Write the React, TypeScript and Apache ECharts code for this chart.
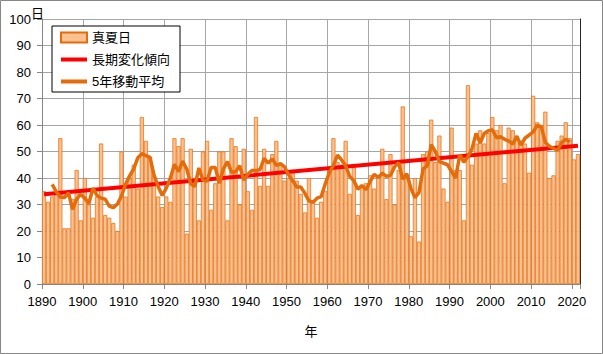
import React, { useEffect, useRef } from "react";
import * as echarts from "echarts";

// 真夏日の日数 (1890年〜2021年)
const startYear = 1890;
const summerDays = [
  35, 31, 33, 34, 55, 21, 21, 32, 43, 24, // 1890-1899
  40, 30, 25, 33, 53, 26, 25, 23, 20, 50, // 1900-1909
  33, 40, 45, 36, 63, 54, 48, 41, 33, 29, // 1910-1919
  33, 31, 55, 52, 55, 19, 51, 40, 24, 50, // 1920-1929
  54, 28, 38, 50, 50, 24, 55, 52, 30, 51, // 1930-1939
  35, 28, 63, 37, 51, 37, 49, 54, 45, 39, // 1940-1949
  40, 43, 39, 34, 27, 40, 31, 25, 31, 35, // 1950-1959
  43, 55, 46, 45, 54, 34, 44, 26, 37, 38, // 1960-1969
  41, 36, 41, 51, 32, 49, 30, 43, 67, 40, // 1970-1979
  18, 40, 16, 49, 50, 62, 46, 56, 36, 31, // 1980-1989
  59, 43, 43, 24, 75, 45, 53, 58, 53, 57, // 1990-1999
  63, 58, 60, 38, 59, 58, 55, 54, 53, 42, // 2000-2009
  71, 61, 60, 65, 40, 41, 54, 56, 61, 55, // 2010-2019
  47, 49, // 2020-2021
];

// 5年移動平均 (1892年〜2019年)
const maStartYear = 1892;
const movingAvg = [
  37.6, 34.8, 32.8, 32.6, 34.4, 28.2, 32.0, 33.8, // 1892-1899
  32.4, 30.4, 36.2, 33.4, 32.4, 32.0, 29.4, 28.8, 30.2, 33.2, // 1900-1909
  37.6, 40.8, 43.4, 47.6, 49.2, 48.4, 47.8, 41.0, 36.8, 33.4, // 1910-1919
  36.2, 40.0, 45.2, 42.4, 46.4, 43.4, 37.8, 36.8, 43.8, 39.2, // 1920-1929
  38.8, 44.0, 44.0, 38.0, 43.4, 46.2, 42.2, 42.4, 44.6, 39.2, // 1930-1939
  41.4, 42.8, 42.8, 43.2, 47.4, 45.6, 47.2, 44.8, 45.4, 44.2, // 1940-1949
  41.2, 39.0, 36.6, 36.6, 34.2, 31.4, 30.8, 32.4, 33.0, 37.8, // 1950-1959
  42.0, 44.8, 48.6, 46.8, 44.6, 40.6, 39.0, 35.8, 37.2, 35.6, // 1960-1969
  38.6, 41.4, 40.2, 41.8, 40.6, 41.0, 44.2, 45.8, 39.6, 41.6, // 1970-1979
  36.2, 32.6, 34.6, 43.4, 44.6, 52.6, 50.0, 46.2, 45.6, 45.0, // 1980-1989
  42.4, 40.0, 48.8, 46.0, 48.0, 51.0, 56.8, 53.2, 56.8, 57.8, // 1990-1999
  58.2, 55.2, 55.6, 54.6, 54.0, 52.8, 55.8, 52.4, 55.0, 56.2, // 2000-2009
  57.4, 59.8, 59.4, 53.4, 52.0, 51.2, 50.4, 53.4, 54.6, 53.6, // 2010-2019
];

// 長期変化傾向 (始点と終点)
const trendYears = [1890, 2021];
const trendValues = [33.9, 52.2];

const seriesNames = ["真夏日", "長期変化傾向", "5年移動平均"];
const yAxisUnit = "日";
const xAxisName = "年";

const FONT = "'Liberation Sans', 'Noto Sans CJK JP', sans-serif";
// legend line swatch: a 4px band centred in a 26x10 box (zero-area sub-paths fix the bounds)
const LINE_ICON = "path://M0,0L26,0L26,0ZM0,3L26,3L26,7L0,7ZM0,10L26,10L26,10Z";

export default function App() {
  const ref = useRef<HTMLDivElement>(null);

  useEffect(() => {
    if (!ref.current) return;
    const chart = echarts.init(ref.current, undefined, { renderer: "svg" });
    const gridLeft = 42;
    const gridRight = 23;
    const plotWidth = 603 - gridLeft - gridRight;
    const yearSpan = 2022 - startYear;

    chart.setOption({
      animation: false,
      backgroundColor: "#ffffff",
      textStyle: { fontFamily: FONT },
      grid: { left: gridLeft, right: gridRight, top: 19, bottom: 70, containLabel: false },
      legend: {
        data: [
          { name: seriesNames[0], icon: "rect" },
          { name: seriesNames[1], icon: LINE_ICON, itemStyle: { color: "#FF0000", borderWidth: 0 } },
          { name: seriesNames[2], icon: LINE_ICON, itemStyle: { color: "#E46C0A", borderWidth: 0 } },
        ],
        orient: "vertical",
        left: 52,
        top: 26,
        padding: [4, 10, 3, 8],
        itemGap: 7,
        itemWidth: 26,
        itemHeight: 10,
        itemTextGap: 2,
        backgroundColor: "#ffffff",
        borderColor: "#000000",
        borderWidth: 1,
        borderRadius: 0,
        textStyle: { fontSize: 13, color: "#000000", fontFamily: FONT, lineHeight: 15 },
      },
      xAxis: {
        type: "value",
        min: startYear,
        max: 2022,
        interval: 10,
        name: xAxisName,
        nameLocation: "middle",
        nameGap: 41,
        nameTextStyle: { fontSize: 13, color: "#000000", fontFamily: FONT },
        axisLine: { show: true, lineStyle: { color: "#868686", width: 1 } },
        axisTick: { show: true, length: 5, lineStyle: { color: "#868686" } },
        axisLabel: {
          margin: 11,
          fontSize: 13,
          color: "#000000",
          fontFamily: FONT,
          formatter: (v: number) => (v % 10 === 0 ? String(v) : ""),
        },
        splitLine: { show: true, lineStyle: { color: "#a6a6a6", width: 1 } },
      },
      yAxis: [
        {
          type: "value",
          min: 0,
          max: 100,
          interval: 10,
          axisLine: { show: true, lineStyle: { color: "#868686", width: 1 } },
          axisTick: { show: true, length: 5, lineStyle: { color: "#868686" } },
          axisLabel: { margin: 11, fontSize: 13, color: "#000000", fontFamily: FONT },
          splitLine: { show: true, lineStyle: { color: "#a6a6a6", width: 1 } },
        },
        {
          type: "value",
          position: "right",
          min: 0,
          max: 100,
          interval: 10,
          axisLine: { show: true, lineStyle: { color: "#262626", width: 1 } },
          axisTick: { show: false },
          axisLabel: { show: false },
          splitLine: { show: false },
        },
      ],
      series: [
        {
          name: seriesNames[0],
          type: "bar",
          data: summerDays.map((v, i) => [startYear + i + 0.5, v]),
          barWidth: plotWidth / yearSpan,
          itemStyle: { color: "#FAC090", borderColor: "#E46C0A", borderWidth: 0.7 },
          z: 2,
        },
        {
          name: seriesNames[1],
          type: "line",
          data: trendYears.map((y, i) => [y + 0.5, trendValues[i]]),
          symbol: "none",
          lineStyle: { color: "#FF0000", width: 4 },
          itemStyle: { color: "#FF0000" },
          z: 3,
        },
        {
          name: seriesNames[2],
          type: "line",
          data: movingAvg.map((v, i) => [maStartYear + i + 0.5, v]),
          symbol: "none",
          lineStyle: { color: "#E46C0A", width: 3.5 },
          itemStyle: { color: "#E46C0A" },
          z: 4,
        },
      ],
      graphic: [
        {
          type: "rect",
          silent: true,
          z: -10,
          shape: { x: 0.5, y: 0.5, width: 602, height: 353 },
          style: { fill: "none", stroke: "#868686", lineWidth: 1 },
        },
        {
          type: "text",
          x: 37.5,
          y: 13,
          style: {
            text: yAxisUnit,
            fontSize: 13,
            fill: "#000000",
            align: "center",
            verticalAlign: "middle",
            fontFamily: FONT,
          },
        },
      ],
    });

    return () => chart.dispose();
  }, []);

  return (
    <div
      ref={ref}
      style={{ position: "absolute", left: 0, top: 0, width: 603, height: 354, background: "#fff" }}
    />
  );
}
